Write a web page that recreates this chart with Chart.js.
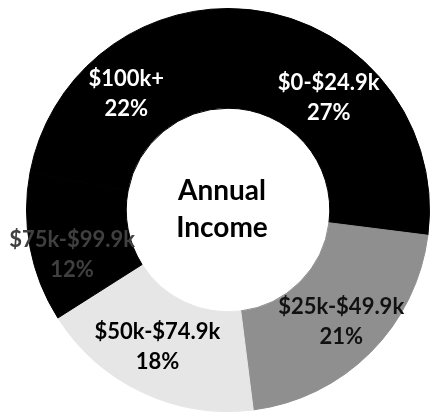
<!DOCTYPE html>
<html>
<head>
<meta charset="utf-8">
<script src="https://cdn.jsdelivr.net/npm/chart.js@4"></script>
<style>
  html, body { margin: 0; padding: 0; background: #fff; }
  #wrap { width: 431px; height: 412px; }
</style>
</head>
<body>
<div id="wrap"><canvas id="chart-1"></canvas></div>
<script>
// data
const categories = ['$0-$24.9k', '$25k-$49.9k', '$50k-$74.9k', '$75k-$99.9k', '$100k+'];
const shares = [27, 21, 18, 12, 22];
const centerLines = ['Annual', 'Income'];

// styles
const sliceColors = ['#000000', '#8f8f8f', '#e6e6e6', '#000000', '#000000'];
const labelColors = ['#ffffff', '#111111', '#000000', '#404040', '#ffffff'];
// small nudges off the slice centroid (px), like the original placement
const labelNudge = [[-13, -12], [6, 5], [-6, 0], [-7, 16], [-5, 1]];

// slice labels + centre title
const labelPlugin = {
    id: 'sliceLabels',
    afterDatasetsDraw(chart) {
        const c = chart.ctx;
        const meta = chart.getDatasetMeta(0);
        c.save();
        c.textAlign = 'center';
        c.textBaseline = 'middle';
        c.font = 'bold 22px Lato';
        meta.data.forEach((arc, i) => {
            const p = arc.tooltipPosition();
            const x = p.x + labelNudge[i][0], y = p.y + labelNudge[i][1];
            c.fillStyle = labelColors[i];
            c.fillText(categories[i], x, y - 15);
            c.fillText(shares[i] + '%', x, y + 15);
        });
        const cx = meta.data[0].x, cy = meta.data[0].y;
        c.fillStyle = '#000';
        c.font = 'bold 28px Lato';
        c.fillText(centerLines[0], cx - 6, cy - 19);
        c.fillText(centerLines[1], cx - 6, cy + 18);
        c.restore();
    }
};

new Chart(document.getElementById('chart-1'), {
    type: 'doughnut',
    data: {
        labels: categories,
        datasets: [{
            data: shares,
            backgroundColor: sliceColors,
            borderColor: sliceColors,
            borderWidth: 1
        }]
    },
    options: {
        responsive: true,
        maintainAspectRatio: false,
        animation: false,
        cutout: '50.5%',
        layout: { padding: { left: 26, right: 1, top: 8, bottom: 0 } },
        plugins: {
            legend: { display: false },
            tooltip: { enabled: false }
        }
    },
    plugins: [labelPlugin]
});
</script>
</body>
</html>
